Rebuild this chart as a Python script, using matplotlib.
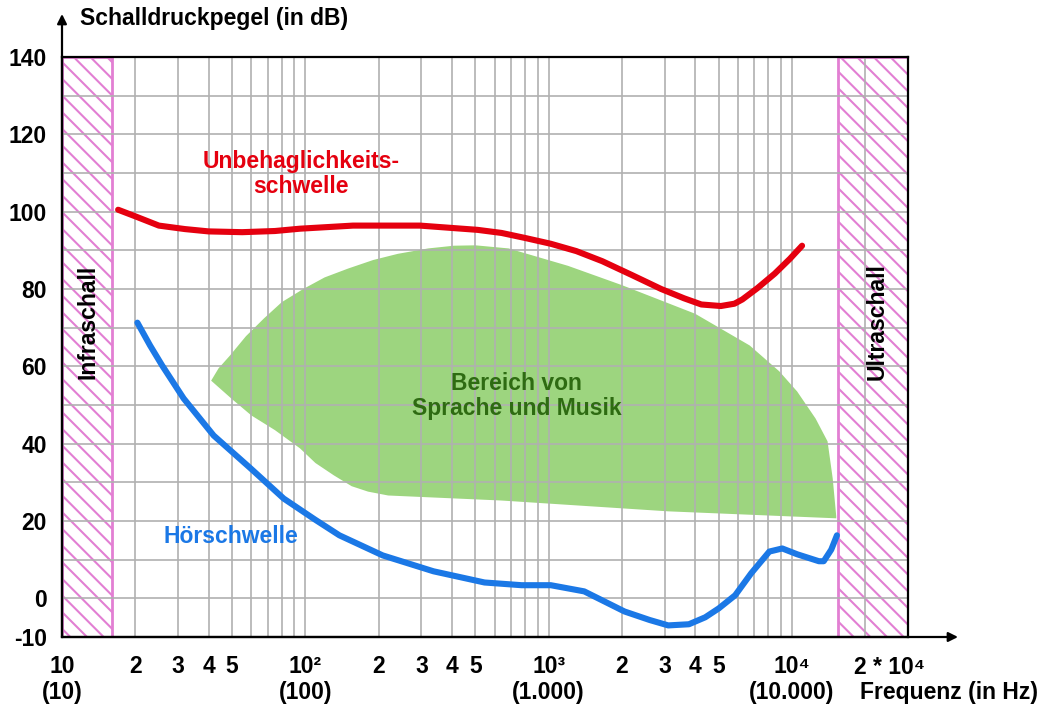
import numpy as np
import matplotlib.pyplot as plt
import matplotlib.transforms as mtransforms

plt.rcParams['font.family'] = ['Liberation Sans', 'DejaVu Sans']
plt.rcParams['font.weight'] = 'bold'
plt.rcParams['hatch.linewidth'] = 1.5

# Unbehaglichkeitsschwelle (threshold of discomfort)
pain_f = [17, 20, 25, 32, 40, 55, 75, 95, 157, 296, 510, 640, 800, 1020, 1300, 1660, 2200, 2900,
          3600, 4240, 5100, 5800, 6250, 7200, 8500, 9800, 11000]
pain_db = [100.5, 98.8, 96.4, 95.5, 94.9, 94.7, 95.0, 95.6, 96.4, 96.4, 95.3, 94.5, 93.2, 91.7, 89.8, 87.2,
           83.6, 80.0, 77.6, 76.0, 75.6, 76.2, 77.3, 80.2, 84.0, 87.8, 91.2]

# Hoerschwelle (threshold of hearing)
hear_f = [20.4, 23, 25.8, 31.6, 42, 59.6, 81.5, 110, 138, 208, 336, 545, 774, 1020, 1400, 2050, 2600,
          3100, 3770, 4400, 5000, 5840, 6800, 8070, 9120, 10500, 12900, 13500, 14500, 15300]
hear_db = [71.3, 65.4, 60.2, 51.7, 42.1, 33.6, 25.8, 20.3, 16.3, 11.1, 7.0, 4.1, 3.4, 3.4, 1.8, -3.4, -5.6,
           -7.0, -6.7, -4.9, -2.6, 0.8, 6.5, 12.1, 12.9, 11.4, 9.6, 9.6, 12.6, 16.3]

# Bereich von Sprache und Musik (outline: upper edge, then lower edge back)
area_f = [41, 44, 49, 57, 67.6, 80, 98, 120, 150, 190, 240, 320, 408, 500, 684, 1200, 2000, 4000, 6700,
          8870, 10500, 12500, 14000, 14700, 15200,
          15200, 3100, 640, 219, 181, 155, 131, 110, 95, 75, 60, 50, 41]
area_db = [56.3, 59.5, 62.8, 67.8, 72.4, 76.6, 80.0, 83.0, 85.3, 87.5, 89.1, 90.5, 91.2, 91.3, 90.5, 86.0,
           81.0, 73.6, 65.4, 58.7, 53.5, 46.5, 40.6, 31.0, 21.2,
           20.7, 22.5, 25.3, 26.6, 27.6, 29.0, 31.8, 35.0, 38.8, 43.5, 47.3, 51.5, 56.3]

infra_limit = 16
ultra_limit = 15500

x_ticks = [10, 20, 30, 40, 50, 60, 70, 80, 90,
           100, 200, 300, 400, 500, 600, 700, 800, 900,
           1000, 2000, 3000, 4000, 5000, 6000, 7000, 8000, 9000,
           10000, 20000]
x_labels = ['10\n(10)', '2', '3', '4', '5', '', '', '', '',
            '10²\n(100)', '2', '3', '4', '5', '', '', '', '',
            '10³\n(1.000)', '2', '3', '4', '5', '', '', '', '',
            '10⁴\n(10.000)', '']
y_ticks = list(range(-10, 141, 10))
y_labels = ['-10', '0', '', '20', '', '40', '', '60', '', '80', '', '100', '', '120', '', '140']

red = '#e5000f'
blue = '#1b78e6'
green = '#9dd57f'
pink = '#e27fd3'
fs = 16.5

fig = plt.figure(figsize=(10.48, 7.10), dpi=100)
ax = fig.add_axes([0.0592, 0.1028, 0.8073, 0.8169])
ax.set_xscale('log')
ax.set_xlim(10, 30000)
ax.set_ylim(-10, 140)

# infra / ultra regions
ax.axvspan(10, infra_limit, facecolor='white', edgecolor=pink, hatch='\\\\', linewidth=2.0, zorder=0.5)
ax.axvspan(ultra_limit, 30000, facecolor='white', edgecolor=pink, hatch='\\\\', linewidth=2.0, zorder=0.5)

ax.fill(area_f, area_db, color=green, linewidth=0, zorder=1)

ax.plot(pain_f, pain_db, color=red, linewidth=4.4, solid_capstyle='round', solid_joinstyle='round', zorder=3)
ax.plot(hear_f, hear_db, color=blue, linewidth=4.4, solid_capstyle='round', solid_joinstyle='round', zorder=3)

ax.set_xticks(x_ticks)
ax.set_xticklabels(x_labels)
ax.xaxis.set_minor_locator(plt.NullLocator())
ax.set_yticks(y_ticks)
ax.set_yticklabels(y_labels)
ax.tick_params(axis='both', length=0, labelsize=fs)
ax.tick_params(axis='x', pad=13)
ax.tick_params(axis='y', pad=11)
for lab in ax.get_xticklabels():
    lab.set_linespacing(1.15)
ax.set_axisbelow(False)
ax.grid(True, color='#b0b0b0', linewidth=1.2)

for s in ax.spines.values():
    s.set_color('black')
    s.set_linewidth(1.6)
    s.set_zorder(4)

# extra x label for 2 * 10^4
off = mtransforms.offset_copy(ax.get_xaxis_transform(), fig=fig, x=-11, y=0, units='dots')
ax.text(20000, -0.033, '2 * 10⁴', transform=off, ha='left', va='top', fontsize=fs, clip_on=False)

# axis arrows
ax.annotate('', xy=(62 / 1048, 1 - 14 / 710), xytext=(62 / 1048, 1 - 637 / 710), xycoords='figure fraction',
            arrowprops=dict(arrowstyle='-|>', color='black', lw=1.6, mutation_scale=14, shrinkA=0, shrinkB=0))
ax.annotate('', xy=(958 / 1048, 1 - 637 / 710), xytext=(62 / 1048, 1 - 637 / 710), xycoords='figure fraction',
            arrowprops=dict(arrowstyle='-|>', color='black', lw=1.6, mutation_scale=14, shrinkA=0, shrinkB=0))

fig.text(80 / 1048, 1 - 19 / 710, 'Schalldruckpegel (in dB)', fontsize=fs, ha='left', va='center')
fig.text(1038 / 1048, 1 - 692 / 710, 'Frequenz (in Hz)', fontsize=fs, ha='right', va='center')

ax.text(96, 109.7, 'Unbehaglichkeits-\nschwelle', color=red, fontsize=fs, ha='center', va='center',
        linespacing=1.1, zorder=5)
ax.text(738, 52.4, 'Bereich von\nSprache und Musik', color='#2e6b12', fontsize=fs, ha='center', va='center',
        linespacing=1.1, zorder=5)
ax.text(49.4, 15.9, 'Hörschwelle', color=blue, fontsize=fs, ha='center', va='center', zorder=5)
ax.text(12.8, 71.5, 'Infraschall', color='black', fontsize=fs, ha='center', va='center', rotation=90, zorder=5)
ax.text(22400, 71.5, 'Ultraschall', color='black', fontsize=fs, ha='center', va='center', rotation=90, zorder=5)

fig.savefig('out.png', dpi=100)
